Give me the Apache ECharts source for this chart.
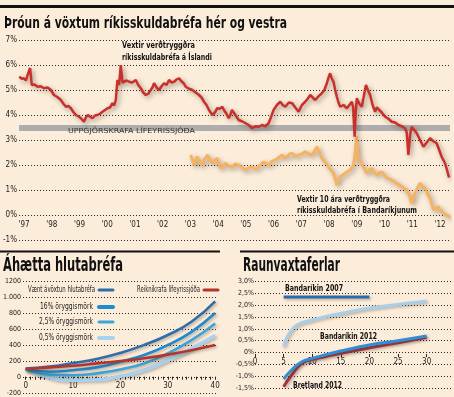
<!DOCTYPE html>
<html><head><meta charset="utf-8">
<script src="https://cdn.jsdelivr.net/npm/echarts@6/dist/echarts.min.js"></script>
<style>html,body{margin:0;padding:0;background:#FCEDDA}#c{width:454px;height:397px}</style>
</head><body><div id="c"></div>
<script>
// ---------- DATA ----------
// Top chart: [year, %]
const icelandRate = [
[1996.83,5.53],[1996.92,5.45],[1997.0,5.47],[1997.07,5.38],[1997.13,5.6],[1997.22,5.88],[1997.28,5.2],[1997.38,5.22],[1997.49,5.13],[1997.6,5.15],[1997.72,5.07],[1997.85,5.1],[1997.97,5.0],[1998.08,4.8],[1998.2,4.72],[1998.33,4.6],[1998.42,4.45],[1998.51,4.33],[1998.6,4.36],[1998.69,4.27],[1998.78,4.12],[1998.87,4.0],[1998.96,3.95],[1999.05,3.87],[1999.16,3.73],[1999.23,3.9],[1999.30,4.0],[1999.38,3.93],[1999.47,3.87],[1999.56,3.98],[1999.65,4.0],[1999.74,4.05],[1999.83,4.13],[1999.92,4.2],[2000.01,4.27],[2000.1,4.3],[2000.19,4.47],[2000.25,4.38],[2000.31,4.6],[2000.37,5.4],[2000.43,5.2],[2000.49,6.0],[2000.55,5.3],[2000.61,5.27],[2000.7,5.38],[2000.79,5.33],[2000.9,5.3],[2001.03,5.4],[2001.12,5.2],[2001.21,5.07],[2001.3,4.9],[2001.39,4.8],[2001.48,4.85],[2001.57,5.0],[2001.63,5.1],[2001.69,5.27],[2001.78,5.1],[2001.87,5.0],[2001.96,5.15],[2002.05,5.27],[2002.14,5.2],[2002.23,5.4],[2002.32,5.3],[2002.41,5.33],[2002.5,5.42],[2002.59,5.47],[2002.65,5.38],[2002.71,5.4],[2002.77,5.25],[2002.83,5.13],[2002.95,5.05],[2003.07,5.0],[2003.19,4.9],[2003.31,4.8],[2003.4,4.7],[2003.49,4.53],[2003.58,4.4],[2003.67,4.2],[2003.73,4.1],[2003.79,4.0],[2003.88,4.1],[2003.97,4.27],[2004.06,4.25],[2004.15,4.33],[2004.21,4.2],[2004.3,4.05],[2004.38,3.87],[2004.44,4.0],[2004.50,4.2],[2004.62,4.0],[2004.74,3.8],[2004.86,3.75],[2004.99,3.67],[2005.1,3.6],[2005.23,3.47],[2005.35,3.55],[2005.46,3.53],[2005.58,3.6],[2005.7,3.55],[2005.82,3.67],[2005.9,3.9],[2006.0,4.2],[2006.12,4.4],[2006.24,4.53],[2006.33,4.4],[2006.42,4.33],[2006.55,4.5],[2006.67,4.47],[2006.78,4.3],[2006.90,4.13],[2007.02,4.4],[2007.14,4.53],[2007.23,4.65],[2007.32,4.8],[2007.41,4.7],[2007.50,4.6],[2007.62,4.75],[2007.74,4.87],[2007.83,5.0],[2007.92,5.27],[2007.98,5.5],[2008.04,5.67],[2008.1,5.45],[2008.16,5.33],[2008.22,5.0],[2008.28,4.73],[2008.34,4.5],[2008.40,4.33],[2008.52,4.4],[2008.64,4.27],[2008.73,4.4],[2008.82,4.53],[2008.87,4.3],[2008.92,3.13],[2008.96,4.1],[2009.0,4.67],[2009.09,4.45],[2009.18,4.33],[2009.26,4.8],[2009.33,5.2],[2009.4,5.0],[2009.48,4.8],[2009.57,4.4],[2009.66,4.13],[2009.72,4.3],[2009.78,4.33],[2009.9,4.1],[2010.02,3.93],[2010.14,3.85],[2010.26,3.73],[2010.38,3.7],[2010.50,3.6],[2010.62,3.55],[2010.74,3.47],[2010.8,3.3],[2010.86,2.4],[2010.92,3.2],[2010.98,3.53],[2011.07,3.4],[2011.16,3.27],[2011.28,3.0],[2011.40,2.73],[2011.52,2.9],[2011.64,3.07],[2011.76,2.95],[2011.88,2.87],[2011.97,2.6],[2012.06,2.33],[2012.12,2.2],[2012.18,2.07],[2012.24,1.85],[2012.30,1.6],[2012.33,1.5]
];
const usRate = [
[2003.01,2.4],[2003.07,2.2],[2003.13,2.0],[2003.19,2.2],[2003.25,2.33],[2003.34,2.1],[2003.43,2.0],[2003.52,2.25],[2003.61,2.4],[2003.7,2.2],[2003.79,2.07],[2003.88,2.2],[2003.97,2.27],[2004.03,2.0],[2004.09,1.87],[2004.18,2.0],[2004.27,2.07],[2004.39,1.95],[2004.51,1.93],[2004.62,2.05],[2004.74,2.0],[2004.86,1.9],[2004.99,1.8],[2005.11,1.9],[2005.23,1.93],[2005.32,1.85],[2005.41,1.87],[2005.52,2.0],[2005.64,2.13],[2005.73,2.05],[2005.82,2.0],[2005.94,2.15],[2006.06,2.2],[2006.18,2.3],[2006.31,2.4],[2006.4,2.3],[2006.49,2.33],[2006.58,2.45],[2006.67,2.47],[2006.78,2.35],[2006.90,2.4],[2007.02,2.45],[2007.14,2.53],[2007.26,2.45],[2007.38,2.4],[2007.47,2.55],[2007.56,2.73],[2007.65,2.5],[2007.74,2.27],[2007.86,2.1],[2007.98,1.93],[2008.07,1.8],[2008.16,1.67],[2008.22,1.45],[2008.28,1.2],[2008.34,1.4],[2008.40,1.53],[2008.49,1.6],[2008.58,1.67],[2008.67,1.75],[2008.76,1.8],[2008.82,1.9],[2008.88,2.0],[2008.94,2.5],[2008.99,3.15],[2009.03,2.6],[2009.06,2.27],[2009.15,2.1],[2009.24,1.93],[2009.3,1.8],[2009.36,1.67],[2009.45,1.8],[2009.54,1.87],[2009.63,1.7],[2009.72,1.6],[2009.81,1.7],[2009.90,1.73],[2009.99,1.6],[2010.08,1.47],[2010.17,1.45],[2010.26,1.4],[2010.35,1.33],[2010.44,1.27],[2010.53,1.2],[2010.62,1.13],[2010.71,1.05],[2010.80,1.0],[2010.89,0.8],[2010.98,0.47],[2011.04,0.7],[2011.10,0.87],[2011.19,1.1],[2011.28,1.27],[2011.37,1.15],[2011.46,1.07],[2011.55,0.85],[2011.64,0.67],[2011.7,0.45],[2011.76,0.2],[2011.85,0.28],[2011.94,0.33],[2012.0,0.2],[2012.06,0.13],[2012.15,0.05],[2012.24,0.0],[2012.3,-0.05],[2012.36,-0.1]
];
const pensionBand = [3.36, 3.6];
const topYearTicks = [1997,1998,1999,2000,2001,2002,2003,2004,2005,2006,2007,2008,2009,2010,2011,2012];

// Bottom-left: stock risk
const riskYears = [0,5,10,15,20,25,30,35,40];
const expectedReturn = [105,130,175,225,300,400,525,690,945];
const conf16 = [100,65,85,120,190,275,400,565,800];
const conf25 = [100,30,20,45,95,170,295,460,670];
const conf05 = [100,-5,-40,-35,10,85,210,355,520];
const pensionReq = [100,120,140,170,200,235,280,335,400];
const riskTicks = [0,1,2,3,4,5,6,7,8,9,10,11,12,13,14,15,16,17,18,19,20,21,22,23,24,25,26,27,28,29,30,31,32,33,34,35,36,37,38,39,40];
const riskLabels = [0,10,20,30,40];

// Bottom-right: real yield curves [maturity, %]
const us2007Flat = [[5,2.35],[20,2.35]];
const us2007Curve = [[5,0.25],[5.5,0.6],[6.4,0.95],[7.6,1.2],[9.9,1.37],[12.2,1.51],[15.2,1.66],[18.1,1.8],[21,1.91],[23.9,2.0],[26.8,2.08],[30,2.18]];
const us2012 = [[5,-1.12],[6.4,-0.74],[8.2,-0.39],[10,-0.25],[12.2,-0.1],[15,0.06],[20,0.32],[25,0.5],[30,0.7]];
const uk2012 = [[5,-1.45],[6.4,-0.95],[8.2,-0.46],[10,-0.29],[12.2,-0.18],[15,-0.03],[20,0.2],[25,0.41],[30,0.64]];
const curveTicks = [0,5,10,15,20,25,30];

// ---------- HELPERS ----------
const FONT = "'Liberation Sans Narrow','DejaVu Sans Condensed',Roboto,sans-serif";
const mctx = document.createElement('canvas').getContext('2d');
function fit(text, size, weight, w){ mctx.font = weight+' '+size+'px '+FONT; return w / mctx.measureText(text).width; }
function T(text, x, y, size, weight, w, align, color){
  return {type:'text', x:x, y:y, scaleX: w ? fit(text,size,weight,w) : 1, z:100,
    style:{text:text, fontSize:size, fontWeight:weight, fontFamily:FONT, fill:color||'#111',
      align:align||'left', verticalAlign:'middle', textAlign:align||'left', textVerticalAlign:'middle'}};
}
function sw(x1,x2,y,color,w){ return {type:'line', z:100, shape:{x1:x1,y1:y,x2:x2,y2:y}, style:{stroke:color,lineWidth:w||3,lineCap:'round'}}; }
const dotted = {color:'#2a2a2a', width:1, type:[1,2]};
const axLab = {fontFamily:FONT, fontSize:8, color:'#222'};
const noLine = {show:false, onZero:false};
const pair = (xs, ys) => xs.map((x,i)=>[x, ys[i]]);
const shadow = {shadowColor:'rgba(70,50,40,0.35)', shadowBlur:3, shadowOffsetX:1.5, shadowOffsetY:1.5};
const bigShadow = {shadowColor:'rgba(60,40,30,0.45)', shadowBlur:5, shadowOffsetX:2, shadowOffsetY:2};

const chart = echarts.init(document.getElementById('c'), null, {renderer:'canvas'});
chart.setOption({
  animation:false,
  backgroundColor:'#FCEDDA',
  grid:[
    {left:18, right:4, top:40, bottom:157},
    {left:18, width:200, top:281, height:112},
    {left:255, right:1, top:281.5, height:106.5}
  ],
  xAxis:[
    {type:'value', gridIndex:0, min:1996.82, max:2012.36, position:'bottom', offset:-25, axisLine:noLine, axisTick:{show:false}, splitLine:{show:false},
      axisLabel:Object.assign({}, axLab, {customValues:topYearTicks, margin:6, formatter:v=>"'"+String(v).slice(2)})},
    {type:'value', gridIndex:1, min:-0.56, max:40.6, position:'bottom', offset:-16.3, axisLine:noLine, splitLine:{show:false},
      axisTick:{show:true, customValues:riskTicks, length:3, lineStyle:{color:'#222'}},
      axisLabel:Object.assign({}, axLab, {customValues:riskLabels, margin:5})},
    {type:'value', gridIndex:2, min:0, max:34.6, position:'bottom', offset:-34, axisLine:noLine, splitLine:{show:false},
      axisTick:{show:true, customValues:curveTicks, length:3, lineStyle:{color:'#222'}},
      axisLabel:Object.assign({}, axLab, {customValues:curveTicks, margin:4})}
  ],
  yAxis:[
    {type:'value', gridIndex:0, min:-1, max:7, interval:1, axisLine:{show:false}, axisTick:{show:false},
      splitLine:{show:true, lineStyle:dotted}, axisLabel:Object.assign({}, axLab, {margin:2, formatter:'{value}%'})},
    {type:'value', gridIndex:1, min:-200, max:1200, interval:200, axisLine:{show:false}, axisTick:{show:false},
      splitLine:{show:true, lineStyle:dotted}, axisLabel:Object.assign({}, axLab, {fontSize:7, margin:2, formatter:v=> v===1000 ? '1.000' : String(v)})},
    {type:'value', gridIndex:2, min:-1.5, max:3, interval:0.5, axisLine:{show:false}, axisTick:{show:false},
      splitLine:{show:true, lineStyle:dotted}, axisLabel:Object.assign({}, axLab, {fontSize:7, margin:1, formatter:v=> v===0 ? '0%' : v.toFixed(1).replace('.',',')+'%'})}
  ],
  series:[
    {type:'line', xAxisIndex:0, yAxisIndex:0, data:usRate, symbol:'none', z:3,
      lineStyle:Object.assign({color:'#F6B25E', width:2.8}, bigShadow)},
    {type:'line', xAxisIndex:0, yAxisIndex:0, data:icelandRate, symbol:'none', z:4,
      lineStyle:Object.assign({color:'#C9302C', width:2.5}, bigShadow),
      markArea:{silent:true, z:1, itemStyle:{color:'#ADADAD'}, data:[[{yAxis:pensionBand[0]},{yAxis:pensionBand[1]}]]}},

    {type:'line', xAxisIndex:1, yAxisIndex:1, data:pair(riskYears, conf05), smooth:true, symbol:'none', lineStyle:Object.assign({color:'#A8D3F0', width:3.5}, shadow)},
    {type:'line', xAxisIndex:1, yAxisIndex:1, data:pair(riskYears, conf25), smooth:true, symbol:'none', lineStyle:Object.assign({color:'#3AA5DA', width:2.6}, shadow)},
    {type:'line', xAxisIndex:1, yAxisIndex:1, data:pair(riskYears, conf16), smooth:true, symbol:'none', lineStyle:Object.assign({color:'#1D8BD1', width:2.6}, shadow)},
    {type:'line', xAxisIndex:1, yAxisIndex:1, data:pair(riskYears, expectedReturn), smooth:true, symbol:'none', lineStyle:Object.assign({color:'#2F6EA8', width:2.6}, shadow)},
    {type:'line', xAxisIndex:1, yAxisIndex:1, data:pair(riskYears, pensionReq), smooth:true, symbol:'none', lineStyle:Object.assign({color:'#B2352E', width:2.6}, shadow)},

    {type:'line', xAxisIndex:2, yAxisIndex:2, data:us2007Curve, smooth:true, symbol:'none', lineStyle:Object.assign({color:'#A7CFEC', width:3}, shadow)},
    {type:'line', xAxisIndex:2, yAxisIndex:2, data:us2007Flat, symbol:'none', lineStyle:Object.assign({color:'#2D6BA6', width:3}, shadow)},
    {type:'line', xAxisIndex:2, yAxisIndex:2, data:uk2012, smooth:true, symbol:'none', lineStyle:Object.assign({color:'#A8343F', width:3}, shadow)},
    {type:'line', xAxisIndex:2, yAxisIndex:2, data:us2012, smooth:true, symbol:'none', lineStyle:Object.assign({color:'#2F8ED6', width:3}, shadow)}
  ],
  graphic:[
    {type:'rect', z:100, shape:{x:0,y:5,width:454,height:3}, style:{fill:'#111'}},
    {type:'rect', z:100, shape:{x:0,y:250.5,width:220,height:2}, style:{fill:'#111'}},
    {type:'rect', z:100, shape:{x:240,y:250.5,width:214,height:2}, style:{fill:'#111'}},
    T('Þróun á vöxtum ríkisskuldabréfa hér og vestra', 4, 24, 16, 'bold', 283),
    T('Áhætta hlutabréfa', 3, 266, 20, 'bold', 120),
    T('Raunvaxtaferlar', 243, 265.5, 20, 'bold', 97),
    T('Vextir verðtryggðra', 122, 46, 8, 'bold', 73),
    T('ríkisskuldabréfa á Íslandi', 122, 58, 8, 'bold', 90),
    T('Vextir 10 ára verðtryggðra', 297, 200, 8, 'bold', 93),
    T('ríkisskuldabréfa í Bandaríkjunum', 297, 211, 8, 'bold', 120),
    T('UPPGJÖRSKRAFA LÍFEYRISSJÓÐA', 131.5, 131.5, 7, 'normal', 127, 'center', '#333'),
    T('Vænt ávöxtun hlutabréfa', 95, 290, 8, 'normal', 67, 'right', '#222'),
    T('Reiknikrafa lífeyrissjóða', 200, 290, 8, 'normal', 63, 'right', '#222'),
    T('16% öryggismörk', 93, 307, 8, 'normal', 53, 'right', '#222'),
    T('2,5% öryggismörk', 93, 322, 8, 'normal', 54, 'right', '#222'),
    T('0,5% öryggismörk', 93, 338, 8, 'normal', 54, 'right', '#222'),
    sw(99,113,290,'#2F6EA8',3), sw(204,218,290,'#B2352E',3), sw(99,113,307,'#1D8BD1',4),
    sw(99,113,322,'#3AA5DA',3), sw(99,113,338,'#A8D3F0',4),
    T('Bandaríkin 2007', 285, 289, 8, 'bold', 58),
    T('Bandaríkin 2012', 320, 336.5, 8, 'bold', 57),
    T('Bretland 2012', 293, 385.5, 8, 'bold', 49)
  ]
});
</script></body></html>
